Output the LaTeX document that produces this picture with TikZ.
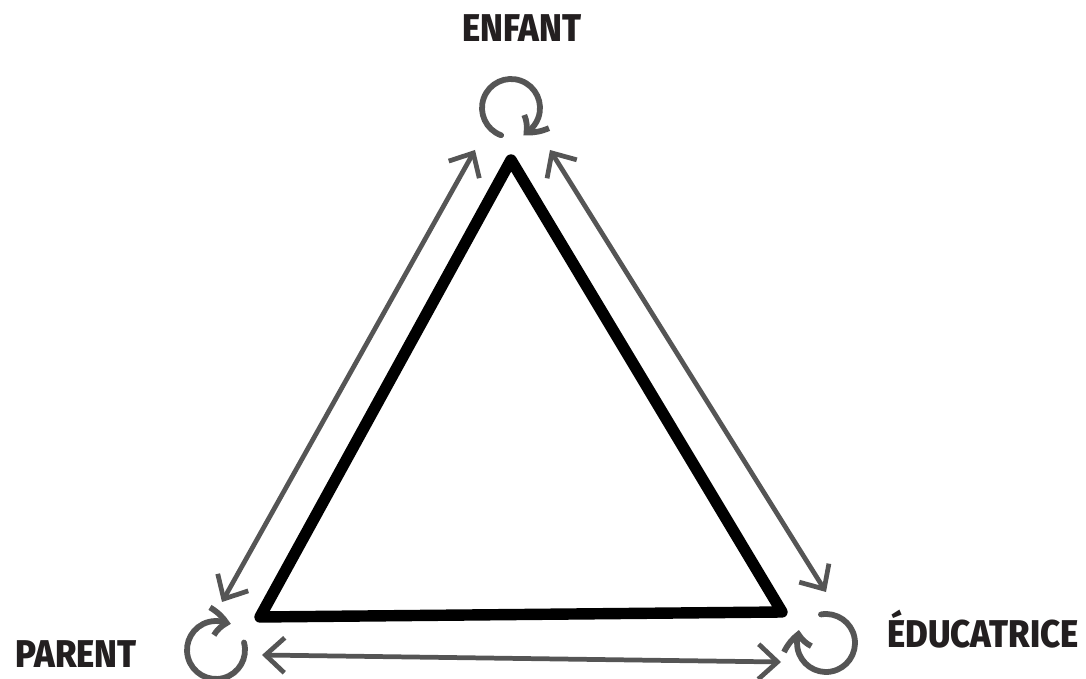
\documentclass[tikz,border=0pt]{standalone}
\usepackage{fontspec}
\newfontfamily\labelfont[FakeStretch=0.9,BoldFont={Fira Sans ExtraBold},BoldFeatures={FakeStretch=0.9}]{Fira Sans}
\usetikzlibrary{arrows.meta,bending}
\definecolor{pencil}{HTML}{555555}
\definecolor{ink}{HTML}{231F20}
\tikzset{
  link/.style={draw=pencil, line width=2.7pt, line cap=round,
    {Straight Barb[length=3.8mm,width=7mm]}-{Straight Barb[length=3.8mm,width=7mm]}},
  selfloop/.style={draw=pencil, line width=3.3pt, line cap=round,
    -{Straight Barb[length=3mm,width=5.6mm,bend]}},
  role/.style={font=\labelfont\bfseries\fontsize{22}{22}\selectfont, text=ink,
    inner sep=0pt, anchor=base},
}
\begin{document}
\begin{tikzpicture}[x=0.02cm,y=0.02cm]
\useasboundingbox (0,0) rectangle (1086,679);
% sommets du triangle
\coordinate (enfant) at (511,519);
\coordinate (parent) at (260,62);
\coordinate (educ) at (782,67);
\draw[line width=6.5pt, line join=round, line cap=round]
  (enfant) -- (parent) -- (educ) -- cycle;
% extremites des fleches
\coordinate (ep) at (475,529);
\coordinate (pe) at (222,77);
\coordinate (ee) at (550,529);
\coordinate (de) at (826,87);
\coordinate (pd) at (262,24);
\coordinate (dp) at (781,17);
\draw[link] (ep) -- (pe);
\draw[link] (ee) -- (de);
\draw[link] (pd) -- (dp);
% boucles
\coordinate (enfantloop) at (511,571);
\coordinate (parentloop) at (216,29);
\coordinate (educloop) at (826,36);
\draw[selfloop] (enfantloop) ++(250:0.58cm) arc[start angle=250, end angle=-66, radius=0.58cm];
\draw[selfloop] (parentloop) ++(15:0.58cm) arc[start angle=15, end angle=-300, radius=0.58cm];
\draw[selfloop] (educloop) ++(100:0.58cm) arc[start angle=100, end angle=-206, radius=0.58cm];
% etiquettes
\node[role] (enfanttext) at (522,637) {ENFANT};
\node[role] (parenttext) at (76,11) {PARENT};
\node[role] (eductext) at (983,31) {ÉDUCATRICE};
\end{tikzpicture}
\end{document}
